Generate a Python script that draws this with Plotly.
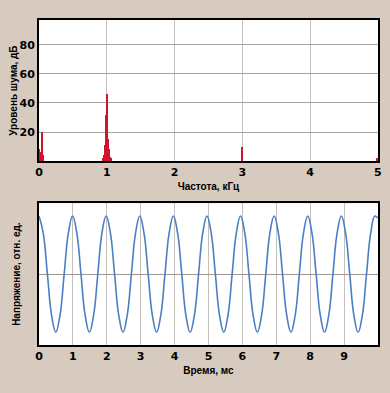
import plotly.graph_objects as go

# ---- Spectrum (top) ----
freq_khz = [0.00, 0.01, 0.02, 0.03, 0.05, 0.06,
            0.94, 0.95, 0.96, 0.97, 0.98, 0.985, 0.99, 0.995, 1.00, 1.005,
            1.01, 1.015, 1.02, 1.03, 1.04, 1.05, 1.06, 1.07,
            3.00, 4.99]
level_db = [8, 4, 3, 6, 20, 4,
            1, 2, 4, 7, 11, 16, 24, 32, 46, 30,
            22, 15, 11, 8, 5, 3, 2, 1,
            10, 2]
freq_ticks = [0, 1, 2, 3, 4, 5]
level_ticks = [20, 40, 60, 80]

# ---- Waveform (bottom), key points ----
time_ms = [0, 0.124, 0.248, 0.372, 0.496, 0.619, 0.743, 0.867, 0.991, 1.115,
           1.239, 1.363, 1.487, 1.611, 1.735, 1.858, 1.982, 2.106, 2.230, 2.354,
           2.478, 2.602, 2.726, 2.850, 2.974, 3.097, 3.221, 3.345, 3.469, 3.593,
           3.717, 3.841, 3.965, 4.089, 4.213, 4.336, 4.460, 4.584, 4.708, 4.832,
           4.956, 5.080, 5.204, 5.328, 5.452, 5.575, 5.699, 5.823, 5.947, 6.071,
           6.195, 6.319, 6.443, 6.567, 6.691, 6.814, 6.938, 7.062, 7.186, 7.310,
           7.434, 7.558, 7.682, 7.806, 7.930, 8.053, 8.177, 8.301, 8.425, 8.549,
           8.673, 8.797, 8.921, 9.045, 9.169, 9.292, 9.416, 9.540, 9.664, 9.788,
           9.912, 10.0]
voltage = [1, 0.71, 0, -0.71, -1, -0.71, 0, 0.71,
           1, 0.71, 0, -0.71, -1, -0.71, 0, 0.71,
           1, 0.71, 0, -0.71, -1, -0.71, 0, 0.71,
           1, 0.71, 0, -0.71, -1, -0.71, 0, 0.71,
           1, 0.71, 0, -0.71, -1, -0.71, 0, 0.71,
           1, 0.71, 0, -0.71, -1, -0.71, 0, 0.71,
           1, 0.71, 0, -0.71, -1, -0.71, 0, 0.71,
           1, 0.71, 0, -0.71, -1, -0.71, 0, 0.71,
           1, 0.71, 0, -0.71, -1, -0.71, 0, 0.71,
           1, 0.71, 0, -0.71, -1, -0.71, 0, 0.71,
           1, 0.96]
time_ticks = [0, 1, 2, 3, 4, 5, 6, 7, 8, 9]

BG = "#d6cbbe"
TICKFONT = "DejaVu Sans"
NARROW = "Liberation Sans Narrow, Arial Narrow, Liberation Sans"

fig = go.Figure()
fig.add_trace(go.Bar(x=freq_khz, y=level_db, width=0.018,
                     marker=dict(color="#d3122f", line=dict(width=0)),
                     xaxis="x", yaxis="y", showlegend=False))
fig.add_trace(go.Scatter(x=time_ms, y=voltage, mode="lines",
                         line=dict(color="#4a7fc4", width=1.6, shape="spline", smoothing=1.2),
                         xaxis="x2", yaxis="y2", showlegend=False))

tickfont = dict(family=TICKFONT, size=11, color="black")
titlefont = dict(family=NARROW, size=10, color="black")

common = dict(automargin=False, ticks="", showline=True, linecolor="black",
              linewidth=2, mirror=True, zeroline=False, showgrid=True, gridwidth=1.2)

fig.update_layout(
    width=390, height=393,
    paper_bgcolor=BG, plot_bgcolor="white",
    margin=dict(l=0, r=0, t=0, b=0),
    bargap=0,
    xaxis=dict(domain=[0.1, 0.969], anchor="y", range=[0, 5],
               tickvals=freq_ticks, ticktext=["<b>%d</b>" % v for v in freq_ticks],
               tickfont=tickfont, gridcolor="#c4c0bc",
               title=dict(text="<b>Частота, кГц</b>", font=titlefont, standoff=5), **common),
    yaxis=dict(domain=[0.590, 0.949], anchor="x", range=[0, 97],
               tickvals=level_ticks, ticktext=["<b>%d</b>" % v for v in level_ticks],
               tickfont=tickfont, gridcolor="#a8a29c",
               title=dict(text="<b>Уровень шума, дБ</b>", font=titlefont, standoff=0), **common),
    xaxis2=dict(domain=[0.1, 0.969], anchor="y2", range=[0, 10],
                tickvals=time_ticks, ticktext=["<b>%d</b>" % v for v in time_ticks],
                tickfont=tickfont, gridcolor="#c4c0bc",
                title=dict(text="<b>Время, мс</b>", font=titlefont, standoff=5), **common),
    yaxis2=dict(domain=[0.122, 0.483], anchor="x2", range=[-1.22, 1.22],
                tickvals=[0], showticklabels=False, gridcolor="#9e9890",
                title=dict(text="<b>Напряжение, отн. ед.</b>", font=titlefont, standoff=14), **common),
)

fig.write_html("out.html", config={"displayModeBar": False},
               post_script="document.body.style.margin='0';document.body.style.background='%s';" % BG)
